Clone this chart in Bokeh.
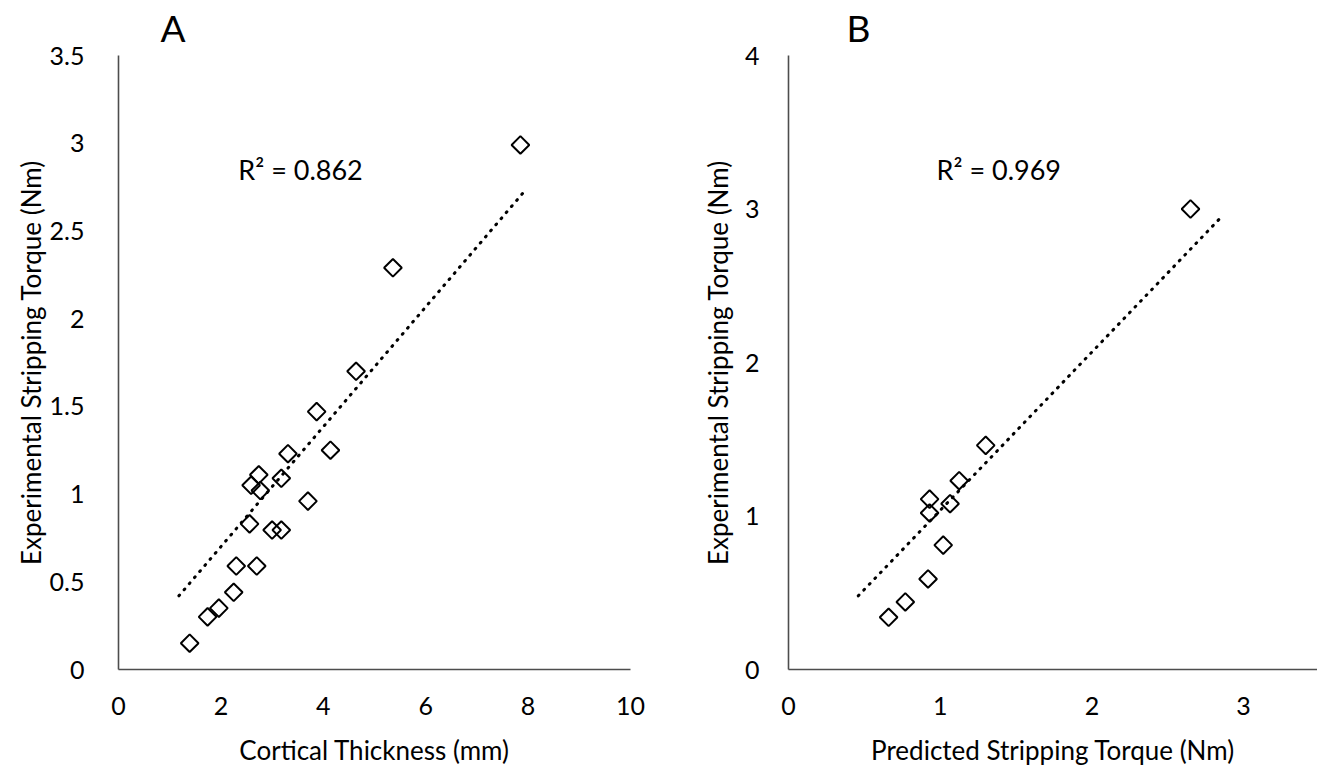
import math
from bokeh.plotting import figure
from bokeh.layouts import row
from bokeh.models import Range1d, FixedTicker, Label
from bokeh.embed import file_html
from bokeh.resources import INLINE

# ---------------- data ----------------
# Panel A: cortical thickness (mm) vs experimental stripping torque (Nm)
a_thickness = [1.39, 1.74, 1.96, 2.25, 2.30, 2.70, 2.56, 3.00, 3.18, 3.70,
               2.77, 2.59, 3.18, 2.74, 3.31, 4.14, 3.87, 4.64, 5.36, 7.85]
a_torque = [0.15, 0.30, 0.35, 0.44, 0.59, 0.59, 0.83, 0.795, 0.795, 0.96,
            1.02, 1.05, 1.09, 1.11, 1.23, 1.25, 1.47, 1.70, 2.29, 2.99]
a_trend_x = [1.18, 7.97]
a_trend_y = [0.42, 2.74]
a_r2 = "R\u00b2 = 0.862"

# Panel B: predicted vs experimental stripping torque (Nm)
b_predicted = [0.66, 0.77, 0.92, 1.02, 0.93, 1.065, 0.93, 1.125, 1.30, 2.65]
b_torque = [0.34, 0.44, 0.59, 0.81, 1.02, 1.08, 1.11, 1.23, 1.46, 3.00]
b_trend_x = [0.46, 2.86]
b_trend_y = [0.48, 2.955]
b_r2 = "R\u00b2 = 0.969"

a_xticks = [0, 2, 4, 6, 8, 10]
a_yticks = [0, 0.5, 1, 1.5, 2, 2.5, 3, 3.5]
a_ytick_labels = ["0", "0.5", "1", "1.5", "2", "2.5", "3", "3.5"]
b_xticks = [0, 1, 2, 3]
b_yticks = [0, 1, 2, 3, 4]

FONT = "Lato"
TICK_SIZE = "25px"
TITLE_SIZE = "26px"
H = 768


def style_axes(p, ytick_standoff, ylabel_standoff, panel_letter, letter_offset):
    for ax in (p.xaxis[0], p.yaxis[0]):
        ax.axis_line_color = "#4d4d4d"
        ax.axis_line_width = 1.6
        ax.major_tick_line_color = None
        ax.minor_tick_line_color = None
        ax.major_label_text_font = FONT
        ax.major_label_text_font_size = TICK_SIZE
        ax.major_label_text_color = "black"
        ax.axis_label_text_font = FONT
        ax.axis_label_text_font_size = TITLE_SIZE
        ax.axis_label_text_font_style = "normal"
        ax.axis_label_text_color = "black"
    p.xaxis[0].major_label_standoff = 21
    p.xaxis[0].axis_label_standoff = 16
    p.yaxis[0].major_label_standoff = ytick_standoff
    p.yaxis[0].axis_label_standoff = ylabel_standoff
    p.xgrid.visible = False
    p.ygrid.visible = False
    p.outline_line_color = None
    p.title.text = panel_letter
    p.title.align = "left"
    p.title.vertical_align = "top"
    p.title.offset = letter_offset
    p.title.standoff = 8
    p.title.text_font = FONT
    p.title.text_font_size = "37px"
    p.title.text_font_style = "normal"
    p.title.text_color = "black"


# ---------------- panel A ----------------
pa = figure(width=660, height=H, output_backend="svg", toolbar_location=None,
            x_range=Range1d(0, 10), y_range=Range1d(0, 3.5),
            min_border_left=118, min_border_right=30,
            min_border_top=54, min_border_bottom=H - 670,
            x_axis_label="Cortical Thickness (mm)",
            y_axis_label="Experimental Stripping Torque (Nm)")
pa.xaxis.ticker = FixedTicker(ticks=a_xticks)
pa.yaxis.ticker = FixedTicker(ticks=a_yticks)
pa.yaxis.major_label_overrides = {t: l for t, l in zip(a_yticks, a_ytick_labels)}
style_axes(pa, 28, 0, "A", 42)

pa.line(a_trend_x, a_trend_y, line_color="black", line_width=3,
        line_dash="1 7", line_cap="round")
pa.scatter(a_thickness, a_torque, marker="square", angle=math.pi / 4, size=12.5,
           line_color="black", line_width=2, fill_alpha=0)
pa.add_layout(Label(x=2.34, y=2.85, text=a_r2, text_font=FONT,
                    text_font_size="27px", text_color="black",
                    text_baseline="alphabetic", text_align="left"))

# ---------------- panel B ----------------
wb = 657
pb = figure(width=wb, height=H, output_backend="svg", toolbar_location=None,
            x_range=Range1d(0, (wb - 128) / 151.7), y_range=Range1d(0, 4),
            min_border_left=128, min_border_right=0,
            min_border_top=54, min_border_bottom=H - 670,
            x_axis_label="Predicted Stripping Torque (Nm)",
            y_axis_label="Experimental Stripping Torque (Nm)")
pb.xaxis.ticker = FixedTicker(ticks=b_xticks)
pb.yaxis.ticker = FixedTicker(ticks=b_yticks)
style_axes(pb, 23, 8, "B", 58)

pb.line(b_trend_x, b_trend_y, line_color="black", line_width=3,
        line_dash="1 7", line_cap="round")
pb.scatter(b_predicted, b_torque, marker="square", angle=math.pi / 4, size=12.5,
           line_color="black", line_width=2, fill_alpha=0)
pb.add_layout(Label(x=0.976, y=3.255, text=b_r2, text_font=FONT,
                    text_font_size="27px", text_color="black",
                    text_baseline="alphabetic", text_align="left"))

layout = row(pa, pb)
open("out.html", "w").write(file_html(layout, INLINE))
